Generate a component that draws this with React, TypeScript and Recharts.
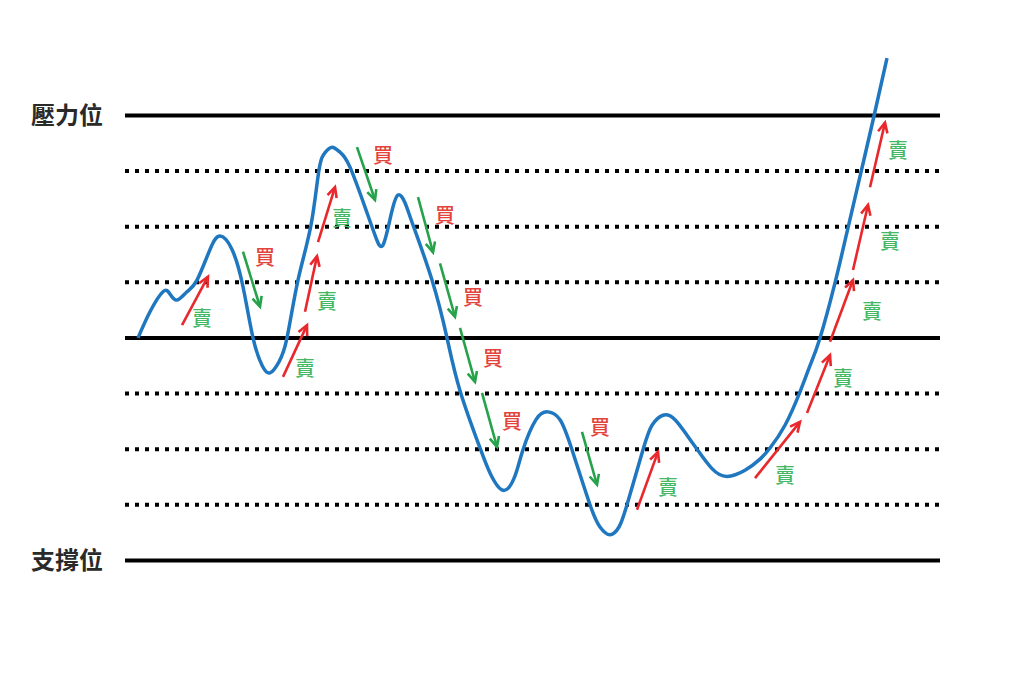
import React from 'react';
import { LineChart, Line, XAxis, YAxis, ReferenceLine, ReferenceDot } from 'recharts';

// price levels of the grid (0 = support, 8 = resistance)
const gridLevels = [1, 2, 3, 5, 6, 7];
const solidLevels = [0, 4, 8];
const levelNames: Record<number, string> = { 8: '壓力位', 0: '支撐位' };

// price path
const curveT = [13, 25, 38, 45, 52, 62, 72, 85, 95, 107, 118, 128, 137, 145, 154, 162, 173, 186, 194, 200, 207, 215, 225, 242, 251, 258, 266, 273, 280, 288, 307, 322, 335, 355, 365, 378, 390, 398, 411, 423, 435, 447, 465, 475, 485, 494, 502, 518, 527, 538, 550, 562, 572, 587, 602, 620, 635, 645, 660, 675, 685, 695, 710, 723, 736, 749, 762];
const curveLevel = [4.0, 4.47, 4.83, 4.79, 4.68, 4.83, 5.04, 5.59, 5.83, 5.59, 4.92, 4.0, 3.51, 3.37, 3.57, 4.0, 5.04, 6.03, 7.02, 7.33, 7.43, 7.34, 7.07, 6.25, 5.8, 5.67, 6.21, 6.57, 6.43, 6.03, 5.04, 4.0, 3.05, 2.02, 1.57, 1.26, 1.52, 1.99, 2.53, 2.67, 2.53, 1.99, 1.0, 0.6, 0.46, 0.6, 1.0, 1.99, 2.43, 2.61, 2.53, 2.25, 2.0, 1.65, 1.51, 1.62, 1.82, 2.02, 2.43, 3.03, 3.5, 4.0, 4.99, 5.98, 6.98, 7.99, 9.03];

// sell arrows (red, up) : start t, start level, end t, end level, label t, label level
const sellStartT = [57, 158, 180, 193, 512, 630, 682, 705, 728, 745];
const sellStartL = [4.23, 3.3, 4.47, 5.72, 0.91, 1.48, 2.65, 3.93, 5.22, 6.71];
const sellEndT = [83, 182, 192, 210, 533, 675, 705, 728, 743, 760];
const sellEndL = [5.1, 4.23, 5.47, 6.71, 1.95, 2.49, 3.69, 5.04, 6.39, 7.87];
const sellLabelT = [77, 180, 202, 217, 543, 660, 718, 747, 765, 773];
const sellLabelL = [4.36, 3.46, 4.68, 6.16, 1.32, 1.54, 3.28, 4.5, 5.76, 7.38];

// buy arrows (green, down)
const buyStartT = [118, 232, 293, 315, 335, 357, 457];
const buyStartL = [5.55, 7.43, 6.53, 5.34, 4.18, 3.01, 2.31];
const buyEndT = [135, 250, 308, 330, 350, 372, 472];
const buyEndL = [4.56, 6.48, 5.54, 4.38, 3.21, 2.04, 1.36];
const buyLabelT = [140, 258, 320, 348, 368, 387, 475];
const buyLabelL = [5.46, 7.29, 6.21, 4.74, 3.64, 2.52, 2.4];

const curveData = curveT.map((t, i) => ({ t, v: curveLevel[i] }));

const RED = '#e8282c';
const GREEN = '#25a24a';
const SELL_TEXT = '#45b866';
const BUY_TEXT = '#e2443c';
const CJK = '"Noto Sans CJK TC", "Noto Sans CJK SC", sans-serif';

const makeArrow = (color: string) => (props: any) => {
  const { x1, y1, x2, y2 } = props;
  const ang = Math.atan2(y2 - y1, x2 - x1);
  const len = 11;
  const spread = Math.PI / 7;
  const ax = x2 - len * Math.cos(ang - spread);
  const ay = y2 - len * Math.sin(ang - spread);
  const bx = x2 - len * Math.cos(ang + spread);
  const by = y2 - len * Math.sin(ang + spread);
  return (
    <g>
      <line x1={x1} y1={y1} x2={x2} y2={y2} stroke={color} strokeWidth={2.6} />
      <polyline points={`${ax},${ay} ${x2},${y2} ${bx},${by}`} fill="none" stroke={color} strokeWidth={2.6} />
    </g>
  );
};

const makeText = (text: string, color: string) => (props: any) => (
  <text x={props.cx} y={props.cy} textAnchor="middle" dominantBaseline="central" fill={color} fontSize={20} fontFamily={CJK} fontWeight={500}>
    {text}
  </text>
);

const redArrow = makeArrow(RED);
const greenArrow = makeArrow(GREEN);
const sellText = makeText('賣', SELL_TEXT);
const buyText = makeText('買', BUY_TEXT);

export default function App() {
  return (
    <div style={{ width: 1000, height: 660, background: '#fff' }}>
      <LineChart width={1000} height={660} data={curveData} margin={{ top: 24, right: 68, bottom: 52, left: 117 }}>
        <XAxis dataKey="t" type="number" domain={[0, 815]} hide />
        <YAxis type="number" domain={[-1, 9.5]} hide />
        {gridLevels.map((l) => (
          <ReferenceLine key={'g' + l} y={l} stroke="#000" strokeWidth={4} strokeDasharray="4 6" />
        ))}
        {solidLevels.map((l) => (
          <ReferenceLine
            key={'s' + l}
            y={l}
            stroke="#000"
            strokeWidth={4}
            label={
              levelNames[l]
                ? { value: levelNames[l], position: 'left', offset: 22, fill: '#2a2a2a', fontSize: 24, fontFamily: CJK, fontWeight: 600 }
                : undefined
            }
          />
        ))}
        <Line type="natural" dataKey="v" stroke="#1f77c0" strokeWidth={3.5} dot={false} isAnimationActive={false} />
        {sellStartT.map((t, i) => (
          <ReferenceLine
            key={'sa' + i}
            segment={[{ x: t, y: sellStartL[i] }, { x: sellEndT[i], y: sellEndL[i] }]}
            shape={redArrow}
            ifOverflow="visible"
          />
        ))}
        {buyStartT.map((t, i) => (
          <ReferenceLine
            key={'ba' + i}
            segment={[{ x: t, y: buyStartL[i] }, { x: buyEndT[i], y: buyEndL[i] }]}
            shape={greenArrow}
            ifOverflow="visible"
          />
        ))}
        {sellLabelT.map((t, i) => (
          <ReferenceDot key={'st' + i} x={t} y={sellLabelL[i]} r={1} shape={sellText} ifOverflow="visible" />
        ))}
        {buyLabelT.map((t, i) => (
          <ReferenceDot key={'bt' + i} x={t} y={buyLabelL[i]} r={1} shape={buyText} ifOverflow="visible" />
        ))}
      </LineChart>
    </div>
  );
}
